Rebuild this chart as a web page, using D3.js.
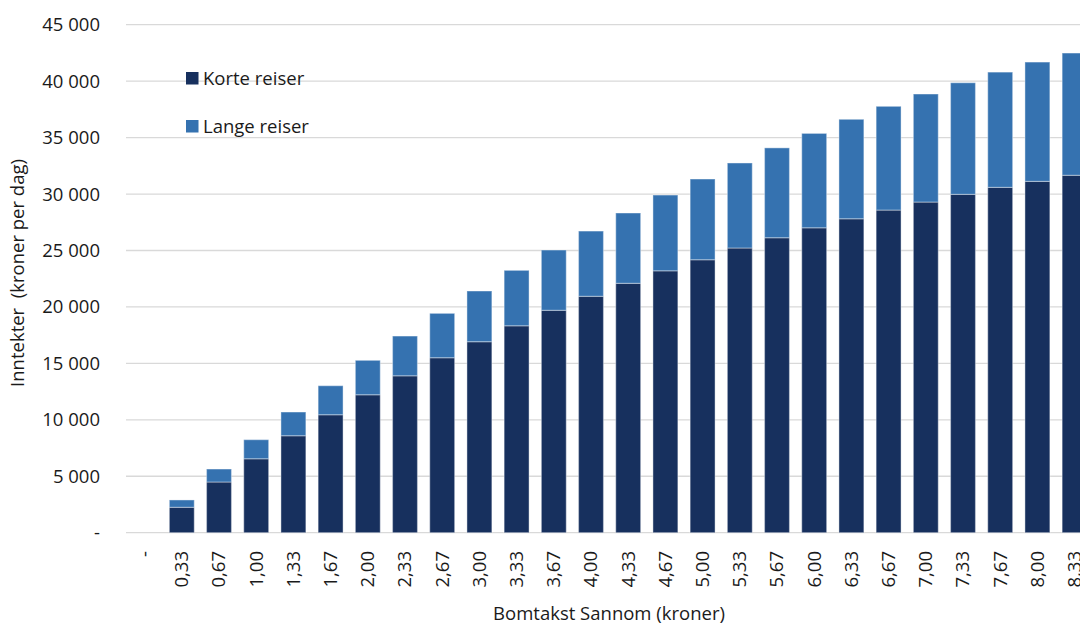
<!DOCTYPE html>
<html>
<head>
<meta charset="utf-8">
<script src="https://cdn.jsdelivr.net/npm/d3@7"></script>
<style>
  body { margin: 0; background: #fff; }
  svg { display: block; font-family: "Open Sans", sans-serif; }
</style>
</head>
<body>
<div id="chart"></div>
<script>
// bomtakst categories
var categories = ['-', '0,33', '0,67', '1,00', '1,33', '1,67', '2,00', '2,33', '2,67', '3,00',
  '3,33', '3,67', '4,00', '4,33', '4,67', '5,00', '5,33', '5,67', '6,00', '6,33',
  '6,67', '7,00', '7,33', '7,67', '8,00', '8,33'];

var korte = [0, 2250, 4490, 6550, 8590, 10450, 12220, 13900, 15500, 16920,
  18330, 19700, 20940, 22090, 23200, 24180, 25220, 26130, 27010, 27810,
  28580, 29290, 29970, 30590, 31120, 31660];

var lange = [0, 650, 1150, 1690, 2100, 2570, 3050, 3520, 3930, 4490,
  4910, 5340, 5780, 6230, 6710, 7150, 7530, 7960, 8360, 8810,
  9190, 9570, 9890, 10210, 10570, 10830];

var yTicks = [0, 5000, 10000, 15000, 20000, 25000, 30000, 35000, 40000, 45000];
var seriesNames = ['Korte reiser', 'Lange reiser'];
var colors = ['#17305e', '#3572b0'];

var W = 1080, H = 625;
var fs = '18.5px';

var svg = d3.select('#chart').append('svg')
  .attr('width', W).attr('height', H);

var x = d3.scaleBand()
  .domain(categories)
  .range([126, 126 + categories.length * 37.2])
  .paddingInner(0.33).paddingOuter(0.165);

var y = d3.scaleLinear()
  .domain([0, 45000])
  .range([532.7, 24.7]);

function fmt(v) {
  if (v === 0) return '-';
  return d3.format(',')(v).replace(/,/g, ' ');
}

// gridlines
svg.append('g')
  .selectAll('line')
  .data(yTicks)
  .enter()
  .append('line')
  .attr('x1', 126).attr('x2', W)
  .attr('y1', function (d) { return y(d); })
  .attr('y2', function (d) { return y(d); })
  .attr('stroke', '#d9d9d9')
  .attr('stroke-width', 1.3);

// y labels
svg.append('g')
  .selectAll('text')
  .data(yTicks)
  .enter()
  .append('text')
  .attr('x', 100)
  .attr('y', function (d) { return y(d); })
  .attr('dy', '0.35em')
  .attr('text-anchor', 'end')
  .attr('font-size', fs)
  .attr('fill', '#1a1a1a')
  .text(fmt);

// stacked data
var rows = categories.map(function (c, i) {
  return { cat: c, korte: korte[i], lange: lange[i] };
});
var stack = d3.stack().keys(['korte', 'lange'])(rows);

svg.append('g')
  .selectAll('g')
  .data(stack)
  .enter()
  .append('g')
  .attr('fill', function (d, i) { return colors[i]; })
  .selectAll('rect')
  .data(function (d) { return d.filter(function (p) { return p[1] > p[0]; }); })
  .enter()
  .append('rect')
  .attr('x', function (d) { return x(d.data.cat); })
  .attr('width', x.bandwidth())
  .attr('y', function (d) { return y(d[1]); })
  .attr('height', function (d) { return y(d[0]) - y(d[1]); })
  .attr('stroke', '#ffffff')
  .attr('stroke-opacity', 0.35)
  .attr('stroke-width', 1.2);

// x labels, rotated
svg.append('g')
  .selectAll('text')
  .data(categories)
  .enter()
  .append('text')
  .attr('transform', function (d) {
    return 'translate(' + (x(d) + x.bandwidth() / 2) + ',551) rotate(-90)';
  })
  .attr('dy', '0.35em')
  .attr('text-anchor', 'end')
  .attr('font-size', fs)
  .attr('fill', '#1a1a1a')
  .text(function (d) { return d; });

// axis titles
svg.append('text')
  .attr('x', 609).attr('y', 620)
  .attr('text-anchor', 'middle')
  .attr('font-size', fs)
  .attr('fill', '#1a1a1a')
  .text('Bomtakst Sannom (kroner)');

svg.append('text')
  .attr('transform', 'translate(24,273) rotate(-90)')
  .attr('text-anchor', 'middle')
  .attr('font-size', fs)
  .attr('fill', '#1a1a1a')
  .attr('xml:space', 'preserve')
  .style('white-space', 'pre')
  .text('Inntekter  (kroner per dag)');

// legend
var leg = svg.append('g')
  .selectAll('g')
  .data(seriesNames)
  .enter()
  .append('g')
  .attr('transform', function (d, i) { return 'translate(186,' + (72 + i * 48) + ')'; });

leg.append('rect')
  .attr('width', 12.5).attr('height', 12.5)
  .attr('fill', function (d, i) { return colors[i]; });

leg.append('text')
  .attr('x', 17).attr('y', 6.5)
  .attr('dy', '0.35em')
  .attr('font-size', fs)
  .attr('fill', '#1a1a1a')
  .text(function (d) { return d; });
</script>
</body>
</html>
